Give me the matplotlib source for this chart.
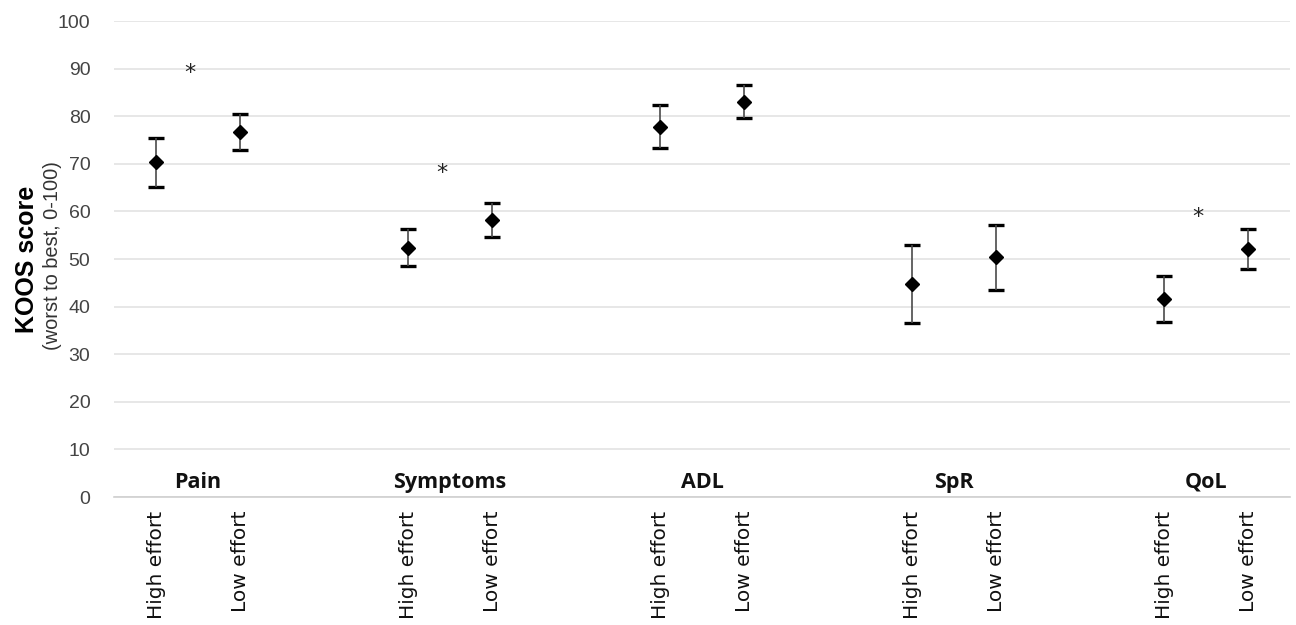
import matplotlib
matplotlib.use("Agg")
import matplotlib.pyplot as plt
import matplotlib.transforms as mtransforms
import numpy as np

groups = ["Pain", "Symptoms", "ADL", "SpR", "QoL"]
conditions = ["High effort", "Low effort"]
high_mean = [70.3, 52.4, 77.8, 44.7, 41.6]
high_upper = [75.5, 56.2, 82.4, 52.9, 46.4]
high_lower = [65.2, 48.6, 73.3, 36.6, 36.8]
low_mean = [76.6, 58.2, 83.0, 50.4, 52.2]
low_upper = [80.4, 61.7, 86.6, 57.2, 56.4]
low_lower = [73.0, 54.7, 79.6, 43.4, 48.0]
significant = [True, True, False, False, True]
star_y = [90.0, 69.0, None, None, 59.7]
yticks = [0, 10, 20, 30, 40, 50, 60, 70, 80, 90, 100]

fig = plt.figure(figsize=(12.96, 6.25), dpi=100)
ax = fig.add_axes([0.088, 0.2048, 0.9074, 0.7616])

slots_per_group = 3
x_high = [g * slots_per_group for g in range(len(groups))]
x_low = [g * slots_per_group + 1 for g in range(len(groups))]

for xs, m, up, lo in [(x_high, high_mean, high_upper, high_lower),
                      (x_low, low_mean, low_upper, low_lower)]:
    m = np.array(m); up = np.array(up); lo = np.array(lo)
    yerr = np.vstack([m - lo, up - m])
    ax.errorbar(xs, m, yerr=yerr, fmt="none", ecolor="black", elinewidth=0,
                capsize=5.6, capthick=2.4, zorder=3)
    ax.errorbar(xs, m, yerr=yerr, fmt="D", color="black", markersize=6.8,
                ecolor="#4a4a4a", elinewidth=1.2, capsize=0, zorder=4)

star_tr = mtransforms.offset_copy(ax.transData, fig=fig, x=0, y=-4, units="dots")
for g, sig in enumerate(significant):
    if sig:
        ax.text(g * slots_per_group + 0.4, star_y[g], "*", ha="center", va="center",
                fontsize=16, color="#222222", family="DejaVu Sans", transform=star_tr)
    ax.text(g * slots_per_group + 0.5, 3.1, groups[g], ha="center", va="center",
            fontsize=15.5, fontweight="bold", family="Open Sans", color="#111111")

ticks = []
labels = []
for g in range(len(groups)):
    ticks += [x_high[g], x_low[g]]
    labels += conditions
ax.set_xticks(ticks)
ax.set_xticklabels(labels, rotation=90, fontsize=14.5, family="DejaVu Sans", color="#111111")
ax.tick_params(axis="x", length=0, pad=10)

ax.set_xlim(-0.5, len(groups) * slots_per_group - 1 - 0.5)
ax.set_ylim(0, 100)
ax.set_yticks(yticks)
ax.set_yticklabels([str(v) for v in yticks], fontsize=14, family="Liberation Sans", color="#444444")
ax.tick_params(axis="y", length=0, pad=17)
ax.grid(axis="y", color="#e3e3e3", linewidth=1.2)
ax.set_axisbelow(True)
for s in ["top", "right", "left"]:
    ax.spines[s].set_visible(False)
ax.spines["bottom"].set_color("#d0d0d0")
ax.spines["bottom"].set_linewidth(1.2)

fig.text(27 / 1296, 1 - 259 / 625, "KOOS score", rotation=90, ha="center", va="center",
         fontsize=18, fontweight="bold", family="Liberation Sans")
fig.text(53 / 1296, 1 - 256 / 625, "(worst to best, 0-100)", rotation=90, ha="center", va="center",
         fontsize=14.4, family="Liberation Sans", color="#333333")

fig.savefig("out.png", dpi=100, facecolor="white")
